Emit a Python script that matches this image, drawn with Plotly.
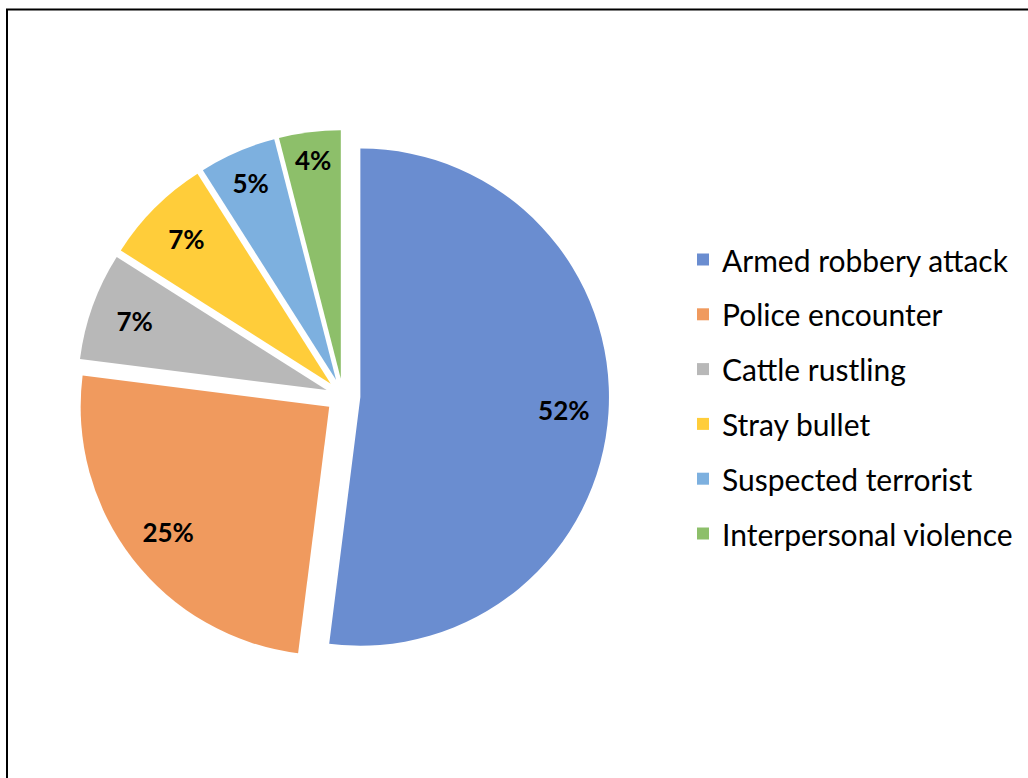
import plotly.graph_objects as go

categories = ["Armed robbery attack", "Police encounter", "Cattle rustling",
              "Stray bullet", "Suspected terrorist", "Interpersonal violence"]
values = [52, 25, 7, 7, 5, 4]
colors = ["#6A8DD0", "#F09A5E", "#B8B8B8", "#FFCD3A", "#7DB0DF", "#8DBF6A"]

W, H = 1028, 778
FONT = "Lato"
domain = dict(x=[77 / W, 609 / W], y=[116 / H, 648 / H])
pull = [0.07] * len(values)

fig = go.Figure()
# coloured slices
fig.add_trace(go.Pie(
    labels=categories,
    values=values,
    sort=False,
    direction="clockwise",
    rotation=0,
    pull=pull,
    marker=dict(colors=colors, line=dict(width=0)),
    textinfo="none",
    domain=domain,
    showlegend=False,
    hoverinfo="label+percent",
))
# transparent ring carrying the percentage labels near the outer edge
fig.add_trace(go.Pie(
    labels=categories,
    values=values,
    sort=False,
    direction="clockwise",
    rotation=0,
    pull=pull,
    hole=0.64,
    marker=dict(colors=["rgba(0,0,0,0)"] * len(values), line=dict(width=0)),
    texttemplate="%{percent:.0%}",
    textposition="inside",
    insidetextorientation="horizontal",
    insidetextfont=dict(family=FONT, size=26, color="black", weight="bold"),
    domain=domain,
    showlegend=False,
    hoverinfo="skip",
))

# legend drawn beside the pie
row0, gap = 259.5, 54.8
shapes = []
annotations = []
for i, (cat, col) in enumerate(zip(categories, colors)):
    yc = row0 + i * gap
    shapes.append(dict(type="rect", xref="paper", yref="paper",
                       x0=697 / W, x1=709 / W,
                       y0=1 - (yc - 6) / H, y1=1 - (yc + 6) / H,
                       fillcolor=col, line=dict(width=0)))
    annotations.append(dict(text=cat, xref="paper", yref="paper",
                            x=720 / W, y=1 - yc / H, xanchor="left", yanchor="middle",
                            showarrow=False,
                            font=dict(family=FONT, size=30, color="black")))

# frame lines (left and top)
shapes.append(dict(type="line", xref="paper", yref="paper",
                   x0=7 / W, x1=7 / W, y0=1 - 9 / H, y1=0,
                   line=dict(color="black", width=2)))
shapes.append(dict(type="line", xref="paper", yref="paper",
                   x0=6 / W, x1=1, y0=1 - 9.5 / H, y1=1 - 9.5 / H,
                   line=dict(color="black", width=2)))

fig.update_layout(
    width=W, height=H,
    margin=dict(l=0, r=0, t=0, b=0),
    paper_bgcolor="white",
    plot_bgcolor="white",
    shapes=shapes,
    annotations=annotations,
    font=dict(family=FONT),
)

fig.write_html("out.html")
